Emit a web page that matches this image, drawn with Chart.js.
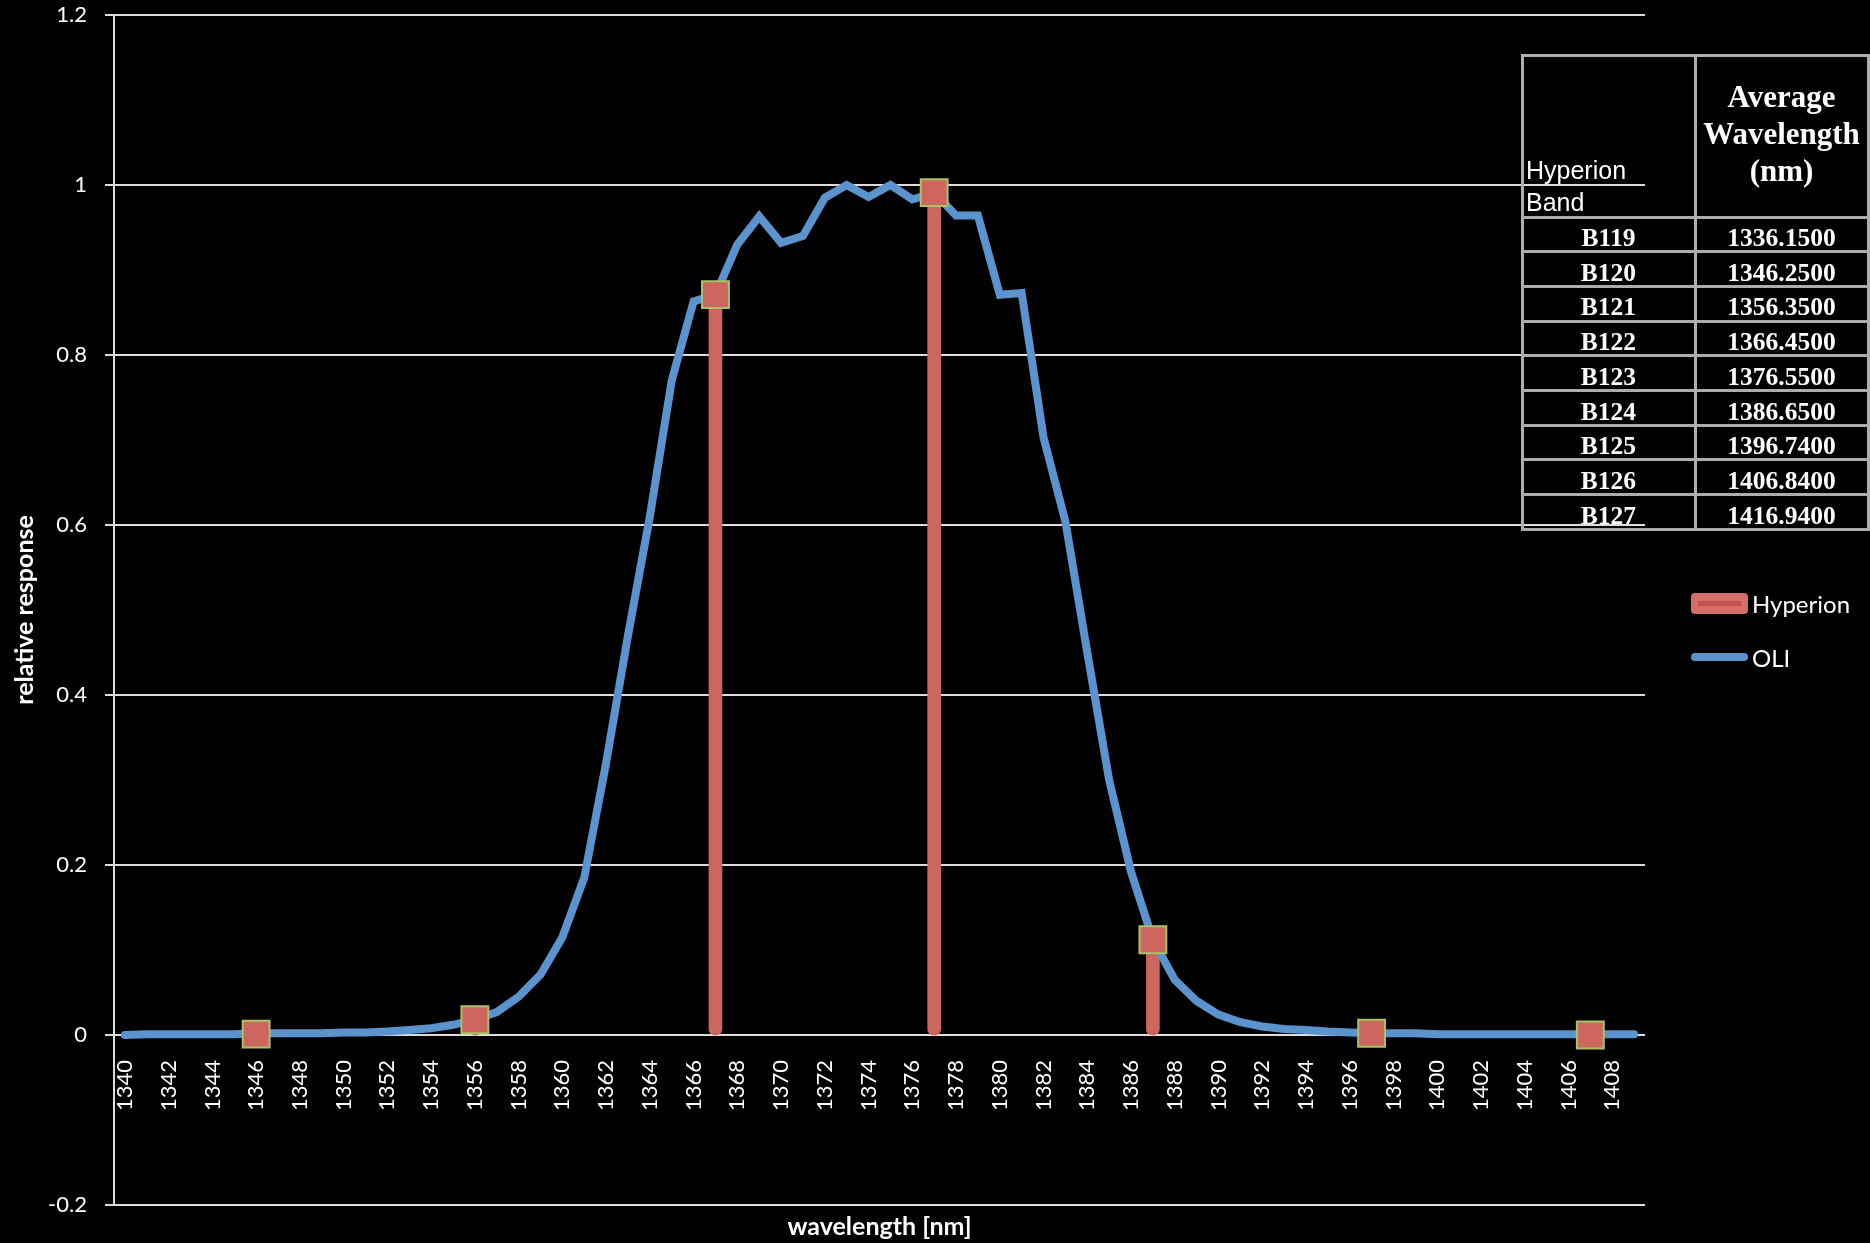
<!DOCTYPE html>
<html><head><meta charset="utf-8">
<script src="https://cdn.jsdelivr.net/npm/chart.js@4.4.0/dist/chart.umd.min.js"></script>
<style>
html,body{margin:0;padding:0;background:#000;}
#wrap{position:relative;width:1870px;height:1243px;overflow:hidden;background:#000;}
#c{position:absolute;left:0;top:0;}
.ln{position:absolute;background:#adadad;}
.tx{position:absolute;color:#fff;white-space:nowrap;}
.ser{font-family:"Liberation Serif","Times New Roman",serif;font-weight:bold;}
.san{font-family:"Liberation Sans",Arial,sans-serif;}
</style></head><body>
<div id="wrap"><canvas id="c" width="1870" height="1243"></canvas><div id="tbl"></div></div>
<script>
// ---- data ----
const wavelengths = ['1340','1341','1342','1343','1344','1345','1346','1347','1348','1349',
  '1350','1351','1352','1353','1354','1355','1356','1357','1358','1359',
  '1360','1361','1362','1363','1364','1365','1366','1367','1368','1369',
  '1370','1371','1372','1373','1374','1375','1376','1377','1378','1379',
  '1380','1381','1382','1383','1384','1385','1386','1387','1388','1389',
  '1390','1391','1392','1393','1394','1395','1396','1397','1398','1399',
  '1400','1401','1402','1403','1404','1405','1406','1407','1408','1409'];
const oliResponse = [0.000,0.001,0.001,0.001,0.001,0.001,0.002,0.002,0.002,0.002,
  0.003,0.003,0.004,0.006,0.008,0.012,0.018,0.027,0.045,0.071,
  0.115,0.185,0.320,0.470,0.610,0.770,0.863,0.871,0.930,0.963,
  0.932,0.940,0.985,1.000,0.986,1.000,0.983,0.991,0.964,0.964,
  0.871,0.873,0.703,0.604,0.450,0.300,0.192,0.112,0.065,0.040,
  0.024,0.015,0.010,0.007,0.006,0.004,0.003,0.002,0.002,0.002,
  0.001,0.001,0.001,0.001,0.001,0.001,0.001,0.001,0.001,0.001];
const hyperionWavelengths = ['1346','1356','1367','1377','1387','1397','1407'];
const hyperionResponse = [0.001,0.018,0.871,0.991,0.112,0.002,0.000];
const yTicks = {min:-0.2, max:1.2, step:0.2};
const tableBands = ['B119','B120','B121','B122','B123','B124','B125','B126','B127'];
const tableWavelengths = ['1336.1500','1346.2500','1356.3500','1366.4500','1376.5500','1386.6500','1396.7400','1406.8400','1416.9400'];

// ---- styles ----
const BLUE = '#5A93CD', RED = '#CD665F', MARK_BORDER = '#A8C264', GRID = '#dcdcdc';
Chart.defaults.font.family = 'Lato, "Open Sans", sans-serif';
Chart.defaults.color = '#fff';

const hyperionPoints = hyperionWavelengths.map((w,i)=>({x:w, y:hyperionResponse[i]}));

const extrasPlugin = {
  id:'extras',
  afterDraw(chart){
    const ctx = chart.ctx, ca = chart.chartArea;
    ctx.save();
    ctx.fillStyle = '#fff';
    ctx.font = 'bold 25px Lato, sans-serif';
    ctx.textAlign = 'center'; ctx.textBaseline = 'middle';
    ctx.fillText('wavelength [nm]', (ca.left+ca.right)/2, 1227);
    const dsH = chart.data.datasets[1], dsO = chart.data.datasets[0];
    ctx.fillStyle = '#D46E68';
    ctx.beginPath(); ctx.roundRect(1691, 593, 57, 21, 4); ctx.fill();
    ctx.strokeStyle = '#C4534D'; ctx.lineWidth = 5; ctx.lineCap = 'butt';
    ctx.beginPath(); ctx.moveTo(1698, 603.5); ctx.lineTo(1741, 603.5); ctx.stroke();
    ctx.strokeStyle = dsO.borderColor; ctx.lineWidth = 8; ctx.lineCap = 'round';
    ctx.beginPath(); ctx.moveTo(1695, 657); ctx.lineTo(1744, 657); ctx.stroke();
    ctx.fillStyle = '#fff'; ctx.font = '24px Lato, sans-serif';
    ctx.textAlign = 'left'; ctx.textBaseline = 'middle';
    ctx.fillText(dsH.label, 1752, 605);
    ctx.fillText(dsO.label, 1752, 659);
    ctx.restore();
  }
};

const zeroPad = s => { s.paddingTop = 0; s.paddingBottom = 0; s.paddingLeft = 0; s.paddingRight = 0; };

new Chart(document.getElementById('c'), {
  type:'line',
  data:{
    labels: wavelengths,
    datasets:[
      {type:'line', label:'OLI', data: oliResponse, borderColor: BLUE, borderWidth: 8,
       pointRadius:0, pointHoverRadius:0, borderCapStyle:'round', borderJoinStyle:'miter', tension:0, order:2},
      {type:'bar', label:'Hyperion', data: hyperionPoints, backgroundColor: RED, barThickness:13,
       borderRadius:6, borderSkipped:false, order:3},
      {type:'line', label:'Hyperion', data: hyperionPoints, showLine:false, pointStyle:'rect',
       pointRadius:19, pointHoverRadius:19, pointBackgroundColor: RED, pointBorderColor: MARK_BORDER,
       pointBorderWidth:2, order:1}
    ]
  },
  options:{
    responsive:false, animation:false, devicePixelRatio:1,
    layout:{autoPadding:false, padding:{left:0, top:15, right:225, bottom:38}},
    plugins:{legend:{display:false}, tooltip:{enabled:false}},
    scales:{
      x:{type:'category', offset:true, position:{y:0},
        grid:{display:false}, border:{display:false},
        ticks:{autoSkip:false, minRotation:90, maxRotation:90, padding:17, color:'#fff',
          font:{size:22},
          callback(v){ const l = this.getLabelForValue(v); return Number(l)%2===0 ? l : ''; }},
        afterFit(s){ zeroPad(s); }},
      y:{min:yTicks.min, max:yTicks.max,
        ticks:{stepSize:yTicks.step, padding:18, color:'#fff', font:{size:22},
          callback(v){ const r = Math.round(v*10)/10; return r===0 ? '0' : String(r); }},
        grid:{color:GRID, lineWidth:2, tickLength:9, drawTicks:true},
        border:{color:GRID, width:2},
        title:{display:true, text:'relative response', color:'#fff', font:{size:25, weight:'bold'}, padding:{top:10,bottom:0}},
        afterFit(s){ s.width = 114; zeroPad(s); }}
    }
  },
  plugins:[extrasPlugin]
});

// ---- table overlay ----
(function(){
  const t = document.getElementById('tbl');
  const L=1522, M=1695, R=1868, T=55, HB=217, RH=34.7, B=HB+RH*tableBands.length;
  const add = (cls, css, html) => { const d=document.createElement('div'); d.className=cls; d.style.cssText=css; if(html!==undefined) d.innerHTML=html; t.appendChild(d); };
  const bw = 3;
  add('ln', `left:${L-bw/2}px;top:${T-bw/2}px;width:${bw}px;height:${B-T+bw}px`);
  add('ln', `left:${M-bw/2}px;top:${T-bw/2}px;width:${bw}px;height:${B-T+bw}px`);
  add('ln', `left:${R-bw/2}px;top:${T-bw/2}px;width:${bw}px;height:${B-T+bw}px`);
  add('ln', `left:${L-bw/2}px;top:${T-bw/2}px;width:${R-L+bw}px;height:${bw}px`);
  for(let i=0;i<=tableBands.length;i++){
    const y = HB + i*RH;
    add('ln', `left:${L-bw/2}px;top:${y-bw/2}px;width:${R-L+bw}px;height:${bw}px`);
  }
  add('tx san', `left:1526px;top:155px;font-size:25px;line-height:31.7px;`, 'Hyperion<br>Band');
  add('tx ser', `left:${M}px;width:${R-M}px;top:78px;font-size:31px;line-height:37px;text-align:center;`, 'Average<br>Wavelength<br>(nm)');
  tableBands.forEach((b,i)=>{
    const y = HB + i*RH + 4;
    add('tx ser', `left:${L}px;width:${M-L}px;top:${y}px;font-size:25.5px;line-height:${RH}px;text-align:center;`, b);
    add('tx ser', `left:${M}px;width:${R-M}px;top:${y}px;font-size:25.5px;line-height:${RH}px;text-align:center;`, tableWavelengths[i]);
  });
})();
</script>
</body></html>
